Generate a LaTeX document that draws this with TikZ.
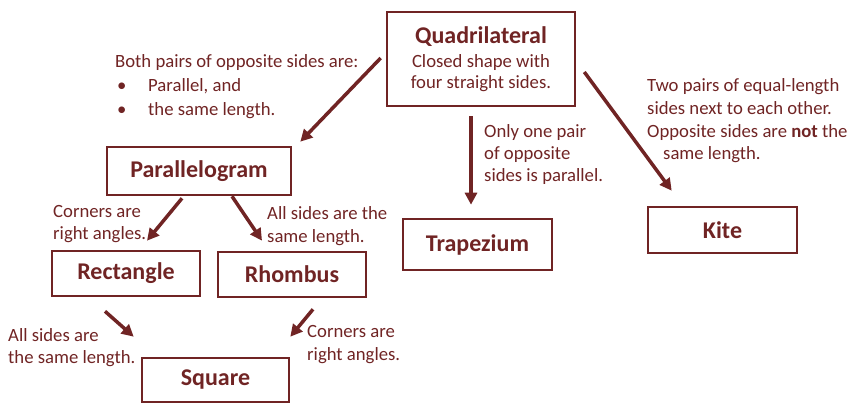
\documentclass[tikz,border=0pt]{standalone}
\usepackage{fontspec}
\setmainfont{Carlito}
\usepackage{xcolor}
\usetikzlibrary{arrows.meta, positioning, calc}
\definecolor{maroon}{RGB}{112,36,36}

\begin{document}
\begin{tikzpicture}[
    x=1pt, y=-1pt,
    font=\fontsize{18.7}{22.5}\selectfont,
    % styles
    shape_box/.style={
        draw=maroon, line width=2.6pt, inner sep=0pt, align=center, text=maroon,
        font=\fontsize{24}{26}\selectfont\bfseries
    },
    note/.style={
        text=maroon, inner sep=0pt, anchor=base west, align=left
    },
    link/.style={
        -{Triangle[length=12pt,width=12pt]}, line width=3.5pt, draw=maroon
    }
]
    \useasboundingbox (0,0) rectangle (857,411);

    % --- 1. TOP: QUADRILATERAL ---
    % (anchor base = baseline of the last line)
    \node[shape_box, minimum width=188pt, minimum height=94pt,
          font=\fontsize{18.7}{21.5}\selectfont\mdseries] (quad) at (481,59) {
        {\fontsize{24}{24}\selectfont\bfseries Quadrilateral}\\[2.5pt]
        Closed shape with\\
        four straight sides.
    };

    % --- 2. SECOND ROW ---
    \node[shape_box, minimum width=184pt, minimum height=48pt] (para) at (199,171) {Parallelogram};
    \node[shape_box, minimum width=149pt, minimum height=51pt] (trap) at (477.5,244.5) {Trapezium};
    \node[shape_box, minimum width=149pt, minimum height=46pt] (kite) at (722.5,230) {Kite};

    % --- 3. THIRD ROW ---
    \node[shape_box, minimum width=148pt, minimum height=45pt] (rect) at (126,273.5) {Rectangle};
    \node[shape_box, minimum width=148pt, minimum height=45pt] (rhomb) at (292,274.5) {Rhombus};

    % --- 4. BOTTOM ---
    \node[shape_box, minimum width=147pt, minimum height=44pt] (square) at (215.5,380) {Square};

    % --- 5. CONNECTORS ---
    \draw[link] ($(quad.west)+(-5,-1)$) -- ($(para.north east)+(8,-4)$);
    \draw[link, shorten >=13pt] ($(quad.south)+(-10,9)$) coordinate (trap_start) -- (trap_start |- trap.north);
    \draw[link] ($(quad.east)+(8,13)$) -- ($(kite.north west)+(25,-15)$);
    \draw[link] ($(para.south)+(-17,2)$) -- ($(rect.north)+(21,-9)$);
    \draw[link] ($(para.south)+(33,0)$) -- ($(rhomb.north)+(-30,-10)$);
    \draw[link] ($(rect.south)+(-21,14)$) -- ($(square.north west)+(-7,-20)$);
    \draw[link] ($(rhomb.south)+(21,11)$) -- ($(square.north east)+(0,-20)$);

    % --- 6. NOTES (placed at the baseline of their last line) ---
    \node[note, font=\fontsize{18.7}{24}\selectfont] (note_para) at (115,116) {
        Both pairs of opposite sides are:\\
        \hspace*{2pt}\makebox[31pt][l]{\textbullet}Parallel, and\\
        \hspace*{2pt}\makebox[31pt][l]{\textbullet}the same length.
    };
    \node[note, font=\fontsize{18.7}{22}\selectfont] (note_trap) at (484,182) {
        Only one pair\\
        of opposite\\
        sides is parallel.
    };
    \node[note, font=\fontsize{18.7}{22.7}\selectfont] (note_kite) at (647,160) {
        Two pairs of equal-length\\
        sides next to each other.\\
        Opposite sides are \textbf{not} the\\
        \hspace*{16pt}same length.
    };
    \node[note, font=\fontsize{18.7}{22}\selectfont] (note_rect) at (53,240) {
        Corners are\\
        right angles.
    };
    \node[note, font=\fontsize{18.7}{23}\selectfont] (note_rhomb) at (267,243) {
        All sides are the\\
        same length.
    };
    \node[note, font=\fontsize{18.7}{22}\selectfont] (note_sq_left) at (8,364) {
        All sides are\\
        the same length.
    };
    \node[note, font=\fontsize{18.7}{23}\selectfont] (note_sq_right) at (307,361) {
        Corners are\\
        right angles.
    };

\end{tikzpicture}
\end{document}
